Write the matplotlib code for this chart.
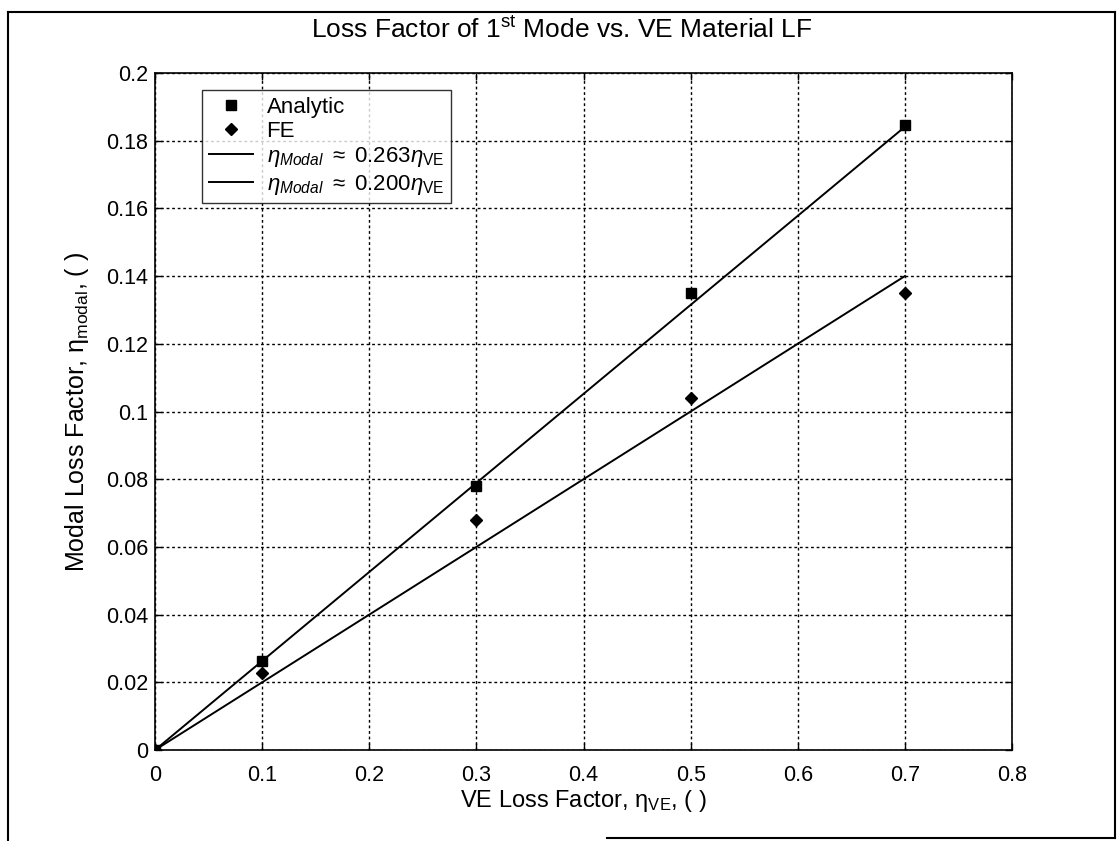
import matplotlib
matplotlib.use("Agg")
import matplotlib.pyplot as plt
from matplotlib.lines import Line2D

plt.rcParams["font.family"] = ["Liberation Sans", "DejaVu Sans"]
plt.rcParams["mathtext.fontset"] = "custom"
plt.rcParams["mathtext.rm"] = "Liberation Sans"
plt.rcParams["mathtext.it"] = "Liberation Sans:italic"
plt.rcParams["mathtext.bf"] = "Liberation Sans:bold"

# VE material loss factor and resulting modal loss factor (1st mode)
eta_ve = [0.0, 0.1, 0.3, 0.5, 0.7]
analytic = [0.0, 0.0263, 0.078, 0.135, 0.1846]
fe = [0.0, 0.0227, 0.068, 0.104, 0.135]

# linear fits, drawn between their end points
fit_x = [0.0, 0.7]
fit_263 = [0.0, 0.1841]
fit_200 = [0.0, 0.140]

xticks = [0, 0.1, 0.2, 0.3, 0.4, 0.5, 0.6, 0.7, 0.8]
xtick_labels = ["0", "0.1", "0.2", "0.3", "0.4", "0.5", "0.6", "0.7", "0.8"]
yticks = [0, 0.02, 0.04, 0.06, 0.08, 0.1, 0.12, 0.14, 0.16, 0.18, 0.2]
ytick_labels = ["0", "0.02", "0.04", "0.06", "0.08", "0.1", "0.12", "0.14",
                "0.16", "0.18", "0.2"]

fig = plt.figure(figsize=(11.17, 8.41), dpi=100)
ax = fig.add_axes([0.1388, 0.1082, 0.7672, 0.805])

ax.plot(eta_ve, analytic, ls="none", marker="s", ms=7, color="black",
        label="Analytic")
ax.plot(eta_ve, fe, ls="none", marker="D", ms=6, color="black", label="FE")
ax.plot(fit_x, fit_263, color="black", lw=1.4,
        label=r"$\it{\eta_{Modal}}\ \approx\ \it{0.263}\eta_{\mathrm{VE}}$")
ax.plot(fit_x, fit_200, color="black", lw=1.4,
        label=r"$\it{\eta_{Modal}}\ \approx\ \it{0.200}\eta_{\mathrm{VE}}$")

ax.set_xlim(0, 0.8)
ax.set_ylim(0, 0.2)
ax.set_xticks(xticks)
ax.set_xticklabels(xtick_labels)
ax.set_yticks(yticks)
ax.set_yticklabels(ytick_labels)
ax.tick_params(direction="in", labelsize=15.5, length=5, width=1,
               top=True, right=True)
ax.tick_params(axis="x", pad=11)
ax.tick_params(axis="y", pad=5)
ax.grid(True, color="black", ls=(0, (2, 2)), lw=1)
for s in ax.spines.values():
    s.set_linewidth(1.2)

ax.set_title(r"Loss Factor of 1$^{\mathrm{st}}$ Mode vs. VE Material LF",
             fontsize=19, pad=25, x=0.474)
ax.set_xlabel(r"VE Loss Factor, $\mathrm{\eta_{VE}}$, ( )", fontsize=17,
              labelpad=1)
ax.set_ylabel(r"Modal Loss Factor, $\mathrm{\eta_{modal}}$, ( )", fontsize=18,
              labelpad=11)

leg = ax.legend(loc="upper left", bbox_to_anchor=(0.055, 0.975), fontsize=16,
                frameon=True, fancybox=False, edgecolor="black",
                handlelength=2.0, borderpad=0.3, labelspacing=0.15,
                handletextpad=0.6, borderaxespad=0)
leg.get_frame().set_linewidth(1.0)

# page border from the scanned figure
fig.add_artist(Line2D([8 / 1117, 8 / 1117], [1 - 840 / 841, 1 - 12 / 841],
                      color="black", lw=1.5, transform=fig.transFigure))
fig.add_artist(Line2D([8 / 1117, 1115 / 1117], [1 - 12 / 841, 1 - 12 / 841],
                      color="black", lw=1.5, transform=fig.transFigure))
fig.add_artist(Line2D([1115 / 1117, 1115 / 1117], [1 - 12 / 841, 1 - 838 / 841],
                      color="black", lw=1.5, transform=fig.transFigure))
fig.add_artist(Line2D([607 / 1117, 1115 / 1117], [1 - 838 / 841, 1 - 838 / 841],
                      color="black", lw=1.5, transform=fig.transFigure))

fig.savefig("out.png", dpi=100)
